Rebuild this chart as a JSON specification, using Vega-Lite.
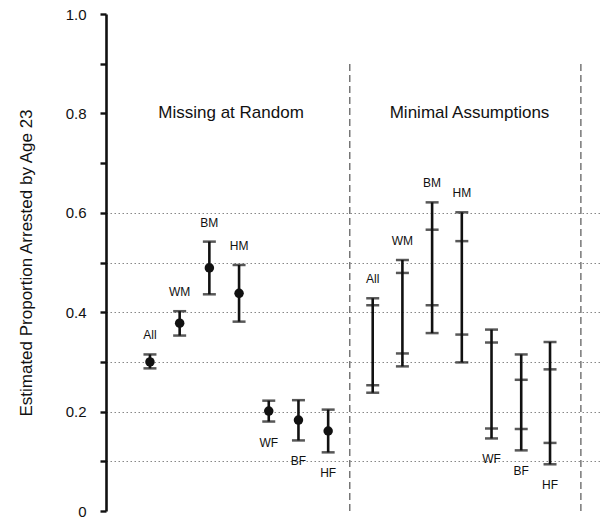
{
  "$schema": "https://vega.github.io/schema/vega-lite/v6.json",
  "autosize": "none",
  "width": 496,
  "height": 497,
  "padding": {"left": 106, "top": 14, "right": 0, "bottom": 15},
  "background": "white",
  "config": {
    "view": {"stroke": null},
    "font": "Liberation Sans",
    "text": {"font": "Liberation Sans", "color": "#111"}
  },
  "datasets": {
    "bars": [
      {"panel": "Missing at Random", "grp": "All", "slot": 1, "est": 0.300, "lo": 0.287, "hi": 0.315, "side": "above"},
      {"panel": "Missing at Random", "grp": "WM", "slot": 2, "est": 0.378, "lo": 0.353, "hi": 0.402, "side": "above"},
      {"panel": "Missing at Random", "grp": "BM", "slot": 3, "est": 0.489, "lo": 0.436, "hi": 0.542, "side": "above"},
      {"panel": "Missing at Random", "grp": "HM", "slot": 4, "est": 0.438, "lo": 0.381, "hi": 0.495, "side": "above"},
      {"panel": "Missing at Random", "grp": "WF", "slot": 5, "est": 0.201, "lo": 0.180, "hi": 0.222, "side": "below"},
      {"panel": "Missing at Random", "grp": "BF", "slot": 6, "est": 0.183, "lo": 0.142, "hi": 0.223, "side": "below"},
      {"panel": "Missing at Random", "grp": "HF", "slot": 7, "est": 0.161, "lo": 0.118, "hi": 0.204, "side": "below"},
      {"panel": "Minimal Assumptions", "grp": "All", "slot": 8.5, "lo": 0.238, "ilo": 0.253, "ihi": 0.414, "hi": 0.428, "side": "above"},
      {"panel": "Minimal Assumptions", "grp": "WM", "slot": 9.5, "lo": 0.291, "ilo": 0.317, "ihi": 0.479, "hi": 0.505, "side": "above"},
      {"panel": "Minimal Assumptions", "grp": "BM", "slot": 10.5, "lo": 0.358, "ilo": 0.414, "ihi": 0.566, "hi": 0.621, "side": "above"},
      {"panel": "Minimal Assumptions", "grp": "HM", "slot": 11.5, "lo": 0.299, "ilo": 0.355, "ihi": 0.543, "hi": 0.601, "side": "above"},
      {"panel": "Minimal Assumptions", "grp": "WF", "slot": 12.5, "lo": 0.146, "ilo": 0.166, "ihi": 0.339, "hi": 0.365, "side": "below"},
      {"panel": "Minimal Assumptions", "grp": "BF", "slot": 13.5, "lo": 0.122, "ilo": 0.165, "ihi": 0.264, "hi": 0.315, "side": "below"},
      {"panel": "Minimal Assumptions", "grp": "HF", "slot": 14.47, "lo": 0.094, "ilo": 0.137, "ihi": 0.285, "hi": 0.340, "side": "below"}
    ],
    "dividers": [{"pos": 7.73}, {"pos": 15.51}],
    "panels": [
      {"label": "Missing at Random", "cx": 3.73, "cy": 0.801},
      {"label": "Minimal Assumptions", "cx": 11.76, "cy": 0.801}
    ]
  },
  "layer": [
    {
      "data": {"name": "bars"},
      "mark": {"type": "rule", "color": "#111", "strokeWidth": 2.6},
      "encoding": {
        "x": {"field": "slot", "type": "quantitative", "axis": null, "scale": {"domain": [-0.48, 16.22], "nice": false, "zero": false}},
        "y": {
          "field": "lo", "type": "quantitative",
          "scale": {"domain": [0, 1], "nice": false, "zero": true},
          "title": "Estimated Proportion Arrested by Age 23",
          "axis": {
            "values": [0, 0.1, 0.2, 0.3, 0.4, 0.5, 0.6, 0.7, 0.8, 0.9, 1.0],
            "labelExpr": "datum.value == 0 ? '0' : (round(datum.value * 10) % 2 == 0 ? format(datum.value, '.1f') : '')",
            "domainColor": "#111", "domainWidth": 2.6,
            "tickColor": "#111", "tickWidth": 2.4, "tickSize": 6,
            "labelFontSize": 15, "labelColor": "#111", "labelPadding": 14, "labelFont": "Liberation Sans",
            "titleFontSize": 17, "titleFontWeight": "normal", "titleColor": "#111", "titleFont": "Liberation Sans", "titlePadding": 30,
            "grid": true,
            "gridColor": "#888",
            "gridDash": [1.5, 2.5],
            "gridWidth": 1.2,
            "gridOpacity": {"condition": {"test": "datum.value > 0.05 && datum.value < 0.65", "value": 1}, "value": 0}
          }
        },
        "y2": {"field": "hi"}
      }
    },
    {
      "data": {"name": "dividers"},
      "mark": {"type": "rule", "color": "#333", "strokeWidth": 1, "strokeDash": [7, 4]},
      "encoding": {
        "x": {"field": "pos", "type": "quantitative", "axis": null},
        "y": {"datum": 0, "type": "quantitative", "title": "Estimated Proportion Arrested by Age 23"},
        "y2": {"datum": 0.9}
      }
    },
    {
      "data": {"name": "bars"},
      "transform": [
        {"fold": ["lo", "hi", "ilo", "ihi"], "as": ["which", "val"]},
        {"filter": "isValid(datum.val)"}
      ],
      "mark": {"type": "tick", "orient": "horizontal", "color": "#111", "thickness": 2.5, "size": 13},
      "encoding": {
        "x": {"field": "slot", "type": "quantitative", "axis": null},
        "y": {"field": "val", "type": "quantitative", "title": "Estimated Proportion Arrested by Age 23"}
      }
    },
    {
      "data": {"name": "bars"},
      "transform": [{"filter": "isValid(datum.est)"}],
      "mark": {"type": "point", "filled": true, "color": "#111", "opacity": 1, "size": 90},
      "encoding": {
        "x": {"field": "slot", "type": "quantitative", "axis": null},
        "y": {"field": "est", "type": "quantitative", "title": "Estimated Proportion Arrested by Age 23"}
      }
    },
    {
      "data": {"name": "bars"},
      "transform": [{"filter": "datum.side == 'above'"}],
      "mark": {"type": "text", "fontSize": 12, "dy": -19, "baseline": "middle", "align": "center"},
      "encoding": {
        "x": {"field": "slot", "type": "quantitative", "axis": null},
        "y": {"field": "hi", "type": "quantitative", "title": "Estimated Proportion Arrested by Age 23"},
        "text": {"field": "grp"}
      }
    },
    {
      "data": {"name": "bars"},
      "transform": [{"filter": "datum.side == 'below'"}],
      "mark": {"type": "text", "fontSize": 12, "dy": 21, "baseline": "middle", "align": "center"},
      "encoding": {
        "x": {"field": "slot", "type": "quantitative", "axis": null},
        "y": {"field": "lo", "type": "quantitative", "title": "Estimated Proportion Arrested by Age 23"},
        "text": {"field": "grp"}
      }
    },
    {
      "data": {"name": "panels"},
      "mark": {"type": "text", "fontSize": 17, "baseline": "middle", "align": "center"},
      "encoding": {
        "x": {"field": "cx", "type": "quantitative", "axis": null},
        "y": {"field": "cy", "type": "quantitative", "title": "Estimated Proportion Arrested by Age 23"},
        "text": {"field": "label"}
      }
    }
  ]
}
